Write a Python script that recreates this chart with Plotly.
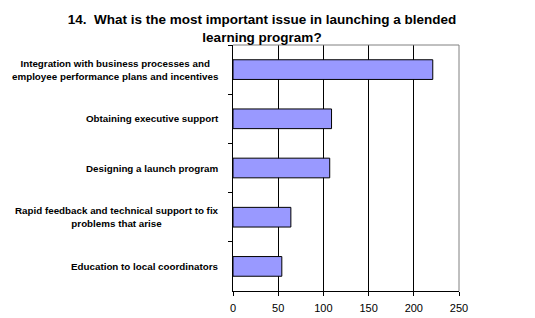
import plotly.graph_objects as go

categories = [
    "Integration with business processes and<br>employee performance plans and incentives",
    "Obtaining executive support",
    "Designing a launch program",
    "Rapid feedback and technical support to fix<br>problems that arise",
    "Education to local coordinators",
]
values = [221, 109, 107, 64, 54]
x_ticks = [0, 50, 100, 150, 200, 250]

title_text = "14.\u00a0 What is the most important issue in launching a blended<br>learning program?"

W, H = 535, 318
L, R, T, B = 233, 76, 45, 27
FONT = "Liberation Sans, Arial"

fig = go.Figure()
fig.add_trace(go.Bar(
    x=values, y=categories, orientation="h",
    marker=dict(color="#9999FF", line=dict(color="#000000", width=1)),
    hoverinfo="skip",
))

for c in categories:
    fig.add_annotation(
        x=0, xref="paper", y=c, yref="y", text=c, showarrow=False,
        xanchor="right", align="center", xshift=-12,
        font=dict(family=FONT, size=9.8, color="#000000", weight="bold"),
    )

# gray frame on top/right
fig.add_shape(type="line", xref="paper", yref="paper", x0=0, x1=1, y0=1, y1=1,
              line=dict(color="#808080", width=1))
fig.add_shape(type="line", xref="paper", yref="paper", x0=1, x1=1, y0=0, y1=1,
              line=dict(color="#808080", width=1))

fig.update_layout(
    width=W, height=H,
    margin=dict(l=L, r=R, t=T, b=B, autoexpand=False),
    paper_bgcolor="white", plot_bgcolor="white",
    showlegend=False,
    bargap=0.6,
    title=dict(text=title_text, x=262 / W, xref="container", xanchor="center",
               y=1 - 24 / H, yanchor="top",
               font=dict(family=FONT, size=13.5, color="#000000", weight="bold")),
    font=dict(family=FONT, color="#000000"),
)
fig.update_xaxes(
    range=[0, 250], tickvals=x_ticks, ticktext=[str(v) for v in x_ticks],
    showgrid=True, gridcolor="#000000", gridwidth=1,
    showline=True, linecolor="#000000", linewidth=1,
    ticks="outside", ticklen=4, tickcolor="#000000", ticklabelstandoff=3,
    tickfont=dict(size=11, family=FONT, color="#000000"),
    zeroline=False, fixedrange=True, automargin=False,
)
fig.update_yaxes(
    autorange="reversed", showticklabels=False,
    showline=True, linecolor="#000000", linewidth=1,
    ticks="outside", ticklen=4, tickcolor="#000000", tickson="boundaries",
    showgrid=False, fixedrange=True, automargin=False,
)

fig.write_html(
    "out.html",
    config={"displayModeBar": False},
    post_script="document.body.style.margin='0';document.body.style.padding='0';",
)
